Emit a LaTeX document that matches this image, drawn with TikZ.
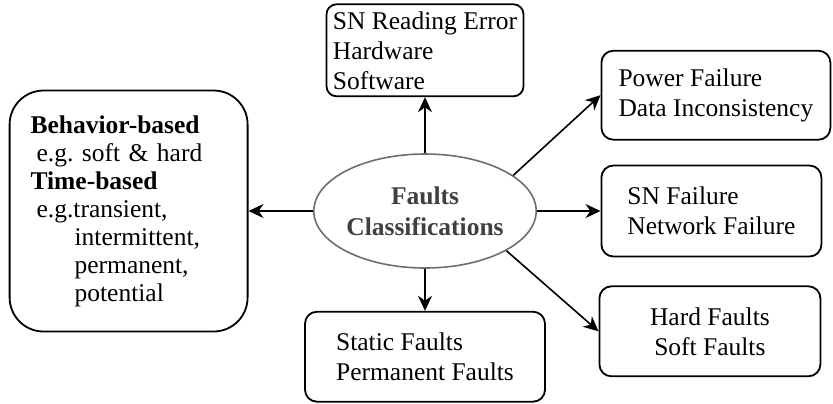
\documentclass[tikz,border=0pt]{standalone}
\usepackage{fontspec}
\setmainfont{Liberation Serif}
\usepackage{xcolor}
\usepackage{tikz}
\usetikzlibrary{shapes.geometric,arrows.meta,positioning}
\definecolor{rim}{HTML}{6E6E6E}
\definecolor{ink}{HTML}{404040}
\frenchspacing

\begin{document}
\begin{tikzpicture}[
    x=0.5pt,y=-0.5pt,
    font=\fontsize{12.75}{15}\selectfont,
    box/.style={draw,line width=0.9pt,rounded corners=6pt,minimum height=45pt,align=left,inner sep=2pt},
    hub/.style={ellipse,draw=rim,line width=0.8pt,fill=white,minimum width=110.5pt,minimum height=57pt,
                inner sep=0pt,align=center,text=ink,font=\fontsize{12.75}{15.5}\selectfont\bfseries},
    kinds/.style={box,rounded corners=17pt,minimum width=119pt,minimum height=120.5pt,text width=98pt,
                  inner xsep=10.5pt,font=\fontsize{12.75}{14}\selectfont},
    arrow/.style={-{Stealth[length=7.5pt,width=7pt]},line width=0.8pt}
  ]
    \useasboundingbox (0,0) rectangle (833,403);

    \node[hub] (fc) at (425,211) {Faults\\Classifications};
    \node[box,above=28pt of fc,minimum width=98.5pt,minimum height=46pt,rounded corners=5pt] (sn) {SN Reading Error\\Hardware\\Software};
    \node[box,below=21pt of fc,minimum width=120pt] (sf) {Static Faults\\Permanent Faults};
    \node[kinds,left=32.25pt of fc] (kd) {\textbf{Behavior-based}\\
      \hspace*{3pt}e.g. soft \& hard\\
      \textbf{Time-based}\\
      \hspace*{3pt}e.g.transient,\\
      \hspace*{22pt}intermittent,\\
      \hspace*{22pt}permanent,\\
      \hspace*{22pt}potential};
    \node[box,right=31.75pt of fc,minimum width=110pt,minimum height=45.5pt] (nf) {SN Failure\\Network Failure};
    \node[box,above=12pt of nf.north west,anchor=south west,minimum width=114.5pt,minimum height=44.5pt] (pf) {Power Failure\\Data Inconsistency};
    \node[box,below=14pt of nf.south west,anchor=north west,xshift=-1pt,minimum width=110.5pt,align=center] (hf) {Hard Faults\\Soft Faults};

    \draw[arrow] (fc) -- (sn);
    \draw[arrow] (fc) -- (sf);
    \draw[arrow] (fc) -- (kd);
    \draw[arrow] (fc) -- (nf);
    \draw[arrow] (fc.22) -- (pf.west);
    \draw[arrow] (fc.-26) -- (hf.west);
  \end{tikzpicture}
\end{document}
